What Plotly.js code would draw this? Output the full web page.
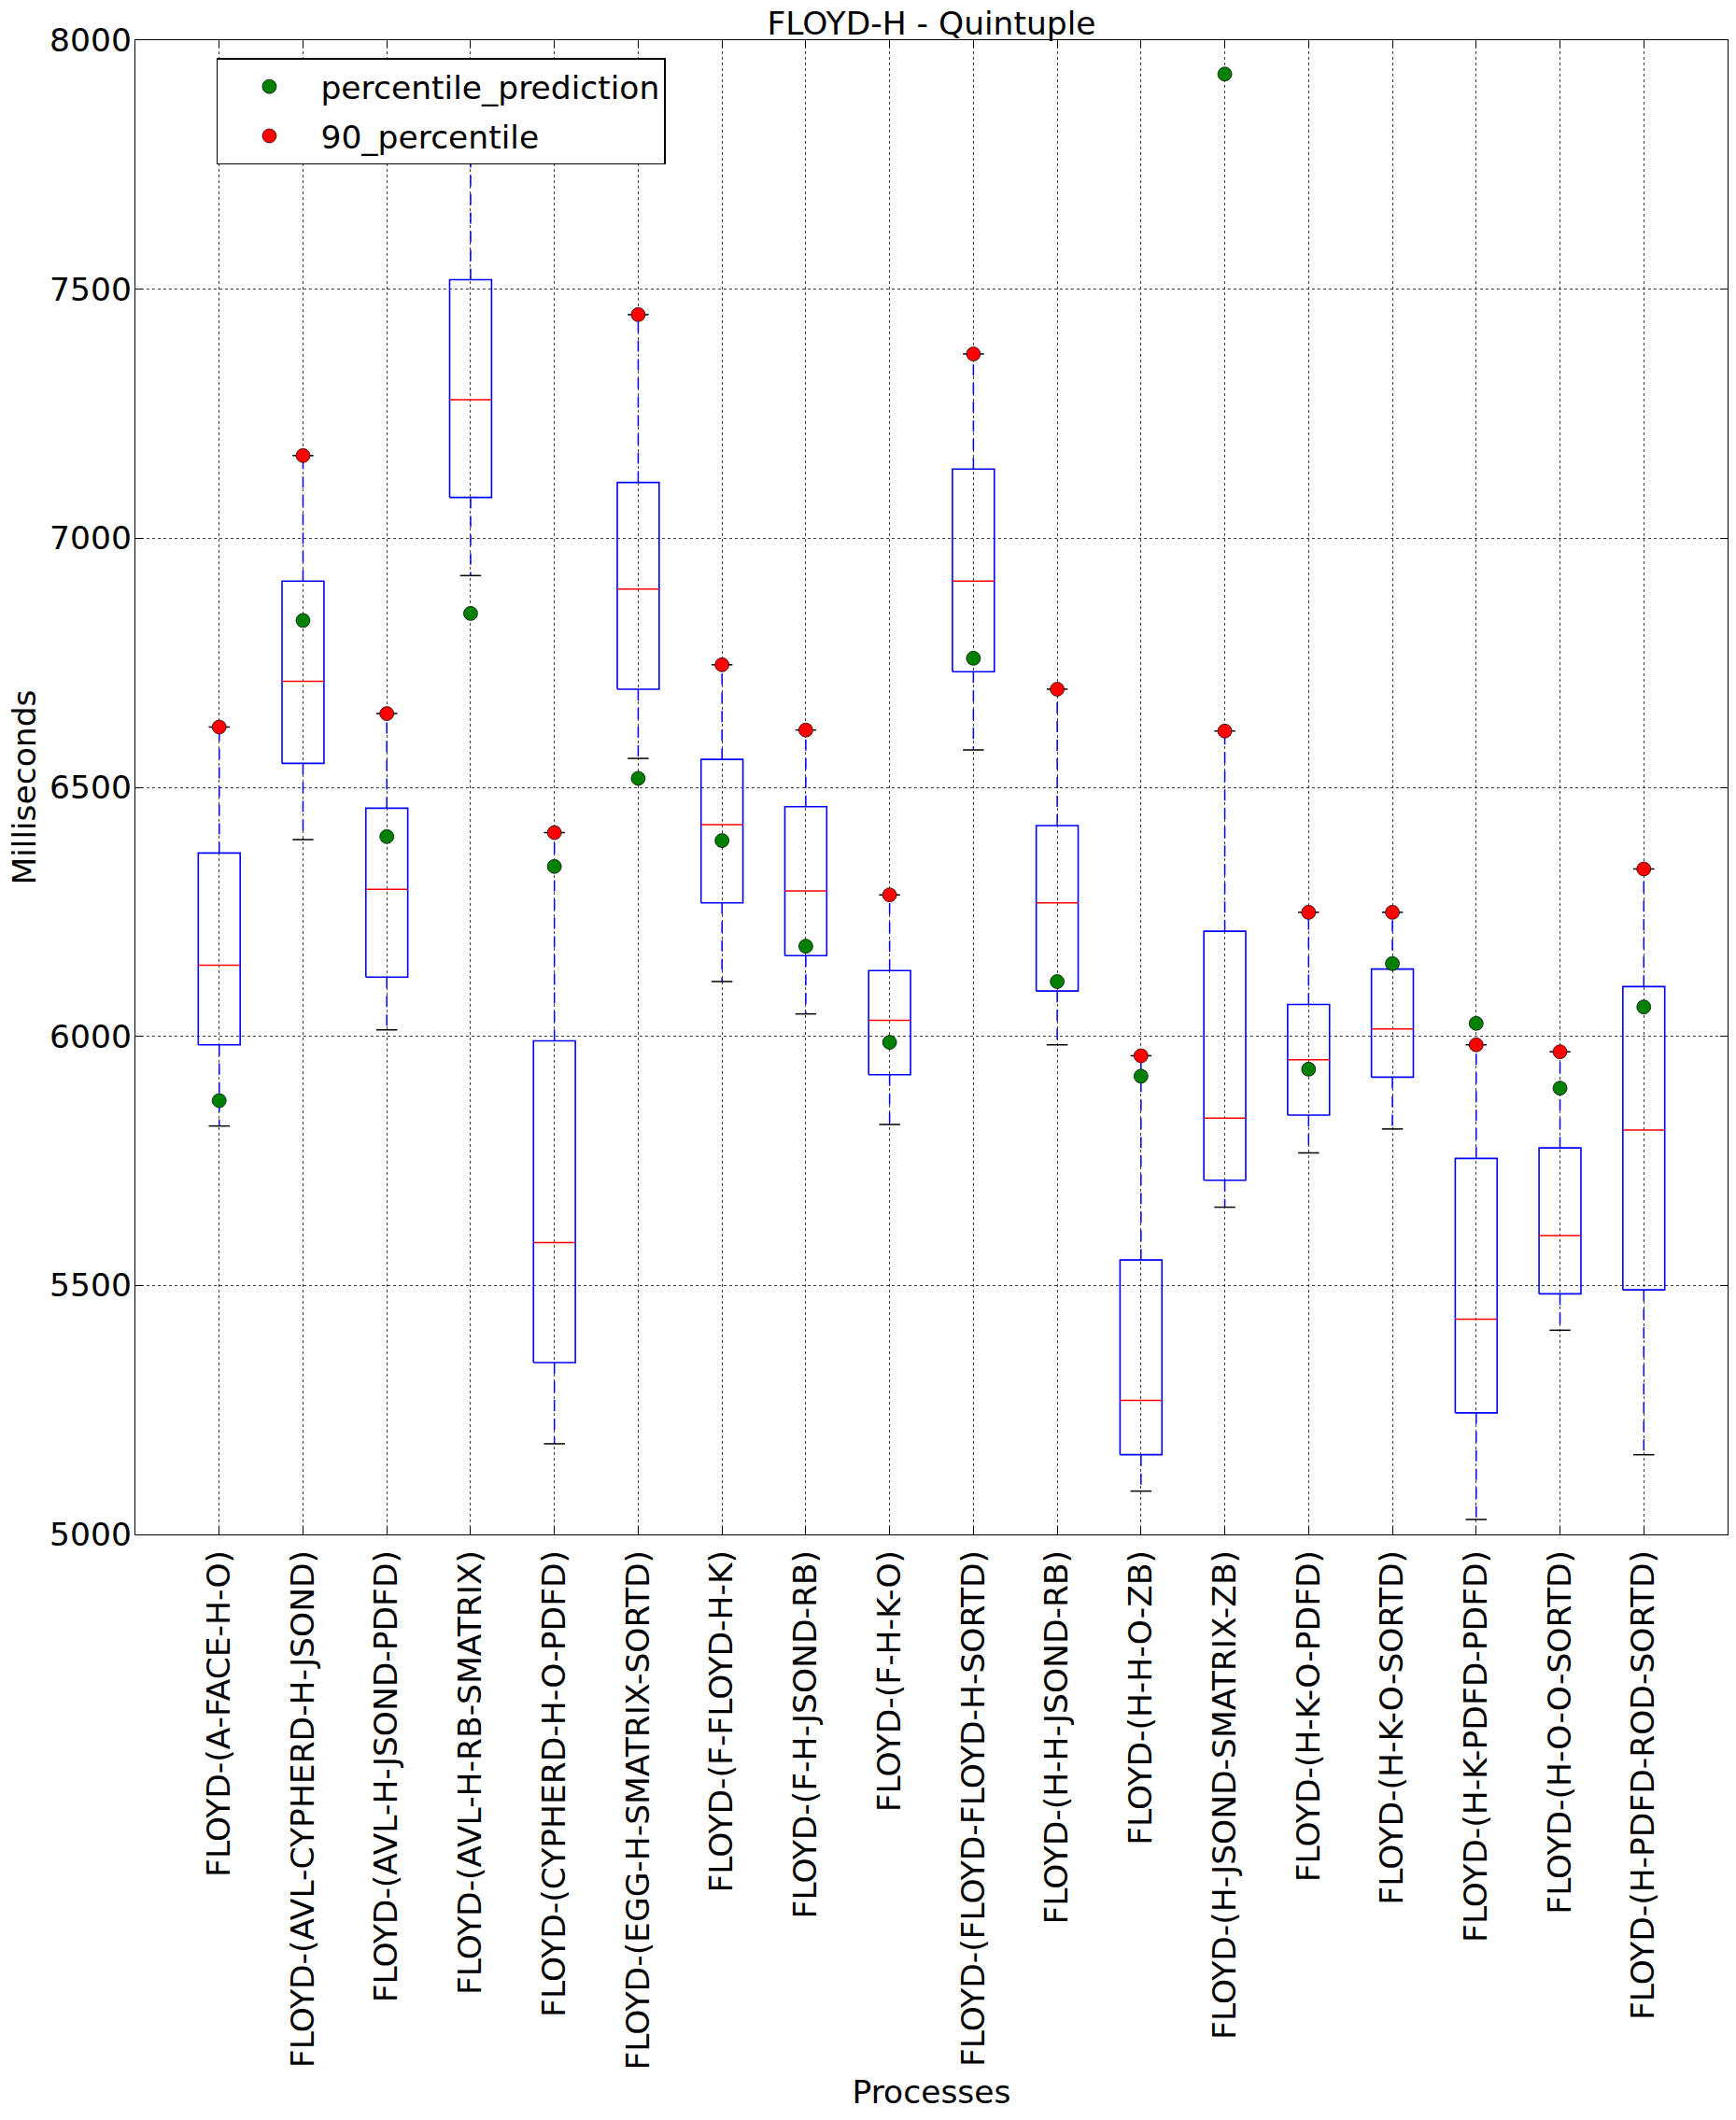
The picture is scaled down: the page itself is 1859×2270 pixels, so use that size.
<!DOCTYPE html>
<html><head><meta charset="utf-8">
<script src="https://cdn.plot.ly/plotly-3.0.1.min.js"></script>
<style>html,body{margin:0;padding:0;background:#fff}</style>
</head><body>
<div id="chart" style="width:1859px;height:2270px"></div>
<script>
const categories = [
  "FLOYD-(A-FACE-H-O)", "FLOYD-(AVL-CYPHERD-H-JSOND)", "FLOYD-(AVL-H-JSOND-PDFD)",
  "FLOYD-(AVL-H-RB-SMATRIX)", "FLOYD-(CYPHERD-H-O-PDFD)", "FLOYD-(EGG-H-SMATRIX-SORTD)",
  "FLOYD-(F-FLOYD-H-K)", "FLOYD-(F-H-JSOND-RB)", "FLOYD-(F-H-K-O)",
  "FLOYD-(FLOYD-FLOYD-H-SORTD)", "FLOYD-(H-H-JSOND-RB)", "FLOYD-(H-H-O-ZB)",
  "FLOYD-(H-JSOND-SMATRIX-ZB)", "FLOYD-(H-K-O-PDFD)", "FLOYD-(H-K-O-SORTD)",
  "FLOYD-(H-K-PDFD-PDFD)", "FLOYD-(H-O-O-SORTD)", "FLOYD-(H-PDFD-ROD-SORTD)"
];
const lowerWhisker = [5820, 6395, 6013, 6925, 5182, 6558, 6110, 6045, 5823, 6575, 5983, 5087, 5657, 5766, 5814, 5030, 5410, 5160];
const q1           = [5983, 6548, 6119, 7082, 5345, 6697, 6268, 6162, 5923, 6732, 6091, 5160, 5711, 5842, 5918, 5244, 5483, 5491];
const median       = [6143, 6713, 6295, 7278, 5586, 6898, 6425, 6292, 6032, 6914, 6268, 5269, 5836, 5953, 6015, 5432, 5600, 5812];
const q3           = [6368, 6914, 6458, 7519, 5991, 7112, 6556, 6461, 6132, 7139, 6423, 5551, 6211, 6064, 6135, 5755, 5776, 6100];
const upperWhisker = [6621, 7166, 6648, 7860, 6409, 7449, 6746, 6615, 6284, 7370, 6697, 5961, 6613, 6249, 6249, 5983, 5969, 6336];
const percentilePrediction = [5871, 6835, 6401, 6849, 6341, 6518, 6393, 6181, 5988, 6759, 6110, 5920, 7932, 5934, 6146, 6026, 5896, 6059];
const percentile90 = [6621, 7166, 6648, 7860, 6409, 7449, 6746, 6615, 6284, 7370, 6697, 5961, 6613, 6249, 6249, 5983, 5969, 6336];
const yTicks = [5000, 5500, 6000, 6500, 7000, 7500, 8000];

const positions = categories.map((c, i) => i + 1);
const halfBox = 0.25, halfCap = 0.125;

function segs(builder) {
  const xs = [], ys = [];
  positions.forEach((p, i) => {
    builder(p, i).forEach(seg => {
      seg.forEach(pt => { xs.push(pt[0]); ys.push(pt[1]); });
      xs.push(null); ys.push(null);
    });
  });
  return {x: xs, y: ys};
}

const whiskers = segs((p, i) => [[[p, q3[i]], [p, upperWhisker[i]]], [[p, q1[i]], [p, lowerWhisker[i]]]]);
const caps = segs((p, i) => [[[p - halfCap, upperWhisker[i]], [p + halfCap, upperWhisker[i]]],
                             [[p - halfCap, lowerWhisker[i]], [p + halfCap, lowerWhisker[i]]]]);
const boxes = segs((p, i) => [[[p - halfBox, q1[i]], [p + halfBox, q1[i]], [p + halfBox, q3[i]], [p - halfBox, q3[i]], [p - halfBox, q1[i]]]]);
const medians = segs((p, i) => [[[p - halfBox, median[i]], [p + halfBox, median[i]]]]);

const traces = [
  {type: 'scatter', mode: 'lines', x: whiskers.x, y: whiskers.y, showlegend: false, hoverinfo: 'skip',
   line: {color: '#0000ff', width: 1.5, dash: '12px,8px'}},
  {type: 'scatter', mode: 'lines', x: caps.x, y: caps.y, showlegend: false, hoverinfo: 'skip',
   line: {color: '#000000', width: 1.5}},
  {type: 'scatter', mode: 'lines', x: boxes.x, y: boxes.y, showlegend: false, hoverinfo: 'skip',
   line: {color: '#0000ff', width: 1.6}},
  {type: 'scatter', mode: 'lines', x: medians.x, y: medians.y, showlegend: false, hoverinfo: 'skip',
   line: {color: '#ff0000', width: 1.5}},
  {type: 'scatter', mode: 'markers', name: 'percentile_prediction', x: positions, y: percentilePrediction,
   legendgroup: 'a', marker: {color: '#008000', size: 15, line: {color: '#000', width: 0.7}}},
  {type: 'scatter', mode: 'markers', name: '90_percentile', x: positions, y: percentile90,
   legendgroup: 'b', marker: {color: '#ff0000', size: 15, line: {color: '#000', width: 0.7}}}
];

const font = {family: 'DejaVu Sans, sans-serif', size: 34.5, color: '#000'};
const layout = {
  width: 1859, height: 2270,
  margin: {l: 145, r: 9, t: 43, b: 627},
  paper_bgcolor: '#fff', plot_bgcolor: '#fff',
  font: font,
  title: {text: 'FLOYD-H - Quintuple', font: font, x: 0.5, xref: 'paper', xanchor: 'center',
          y: 1, yref: 'paper', yanchor: 'bottom', pad: {b: 6}},
  showlegend: true,
  legend: {x: 0.051, y: 0.988, xanchor: 'left', yanchor: 'top', bgcolor: '#fff',
           bordercolor: '#000', borderwidth: 1.5, font: font, itemwidth: 100,
           traceorder: 'grouped', tracegroupgap: 5},
  xaxis: {range: [0, 19], tickmode: 'array', tickvals: positions, ticktext: categories,
          tickangle: -90, showgrid: true, gridcolor: 'rgba(0,0,0,0.75)', griddash: 'dot', gridwidth: 1,
          zeroline: false, showline: true, linecolor: '#000', linewidth: 1.2, mirror: 'ticks',
          ticks: 'inside', ticklen: 8, tickcolor: '#000', ticklabelstandoff: 2, tickfont: font,
          title: {text: 'Processes', font: font, standoff: 12}},
  yaxis: {range: [5000, 8000], tickmode: 'array', tickvals: yTicks, ticktext: yTicks.map(String),
          showgrid: true, gridcolor: 'rgba(0,0,0,0.75)', griddash: 'dot', gridwidth: 1,
          zeroline: false, showline: true, linecolor: '#000', linewidth: 1.2, mirror: 'ticks',
          ticks: 'inside', ticklen: 8, tickcolor: '#000', ticklabelstandoff: -4, tickfont: font,
          title: {text: 'Milliseconds', font: font, standoff: 4}}
};

Plotly.newPlot('chart', traces, layout, {displayModeBar: false, staticPlot: true});
</script>
</body></html>
